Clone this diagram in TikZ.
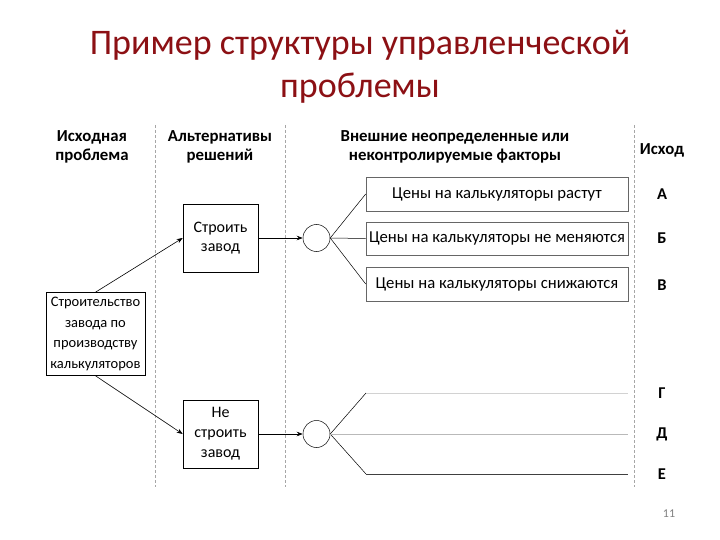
\documentclass[tikz,border=0pt]{standalone}
\usepackage{fontspec}
\setmainfont{Carlito}
\usetikzlibrary{shadows,arrows.meta}
\definecolor{titlered}{RGB}{140,16,20}
\begin{document}
\begin{tikzpicture}[x=1pt,y=-1pt,
  sep/.style={densely dashed,gray!70,line width=0.6pt},
  hdr/.style={font=\bfseries\fontsize{16.8}{19.5}\selectfont,align=center,inner sep=0pt},
  box/.style={draw,line width=0.6pt,fill=white,align=center,font=\fontsize{16}{20}\selectfont,inner sep=0pt},
  fbox/.style={box,font=\fontsize{16.7}{20}\selectfont,draw=gray!80!black,drop shadow={opacity=0.35,shadow xshift=1pt,shadow yshift=-1pt}},
  circ/.style={draw,circle,minimum size=27pt,inner sep=0pt,line width=0.5pt},
  arr/.style={-{Stealth[length=6pt,width=4.5pt]},line width=0.6pt},
  ln/.style={line width=0.5pt},
  outc/.style={font=\bfseries\fontsize{16.5}{18}\selectfont,inner sep=0pt}
]
\useasboundingbox (0,0) rectangle (720,540);
% title
\node[titlered,font=\fontsize{36}{43}\selectfont,align=center] (title) at (360,67) {Пример структуры управленческой\\проблемы};
% separators
\draw[sep] (155,125) -- (155,487);
\draw[sep] (285,125) -- (285,487);
\draw[sep] (634,125) -- (634,487);
% headers
\node[hdr] (h1) at (92,147) {Исходная\\проблема};
\node[hdr] (h2) at (220,147) {Альтернативы\\решений};
\node[hdr] (h3) at (455,147) {Внешние неопределенные или\\неконтролируемые факторы};
\node[hdr] (h4) at (662,150) {Исход};
% boxes
\node[box,minimum width=99pt,minimum height=83pt,font=\fontsize{14.5}{20.5}\selectfont] (root) at (95.5,334) {Строительство\\завода по\\производству\\калькуляторов};
\node[box,minimum width=75pt,minimum height=68pt,font=\fontsize{16}{18.5}\selectfont] (build) at (220.5,238) {Строить\\завод};
\node[box,minimum width=75pt,minimum height=68pt] (nobuild) at (220.5,434) {Не\\строить\\завод};
\node[circ] (c1) at (316.5,238) {};
\node[circ] (c2) at (316.5,434) {};
\node[fbox,minimum width=262pt,minimum height=34pt] (fa) at (497,194) {Цены на калькуляторы растут};
\node[fbox,minimum width=262pt,minimum height=33pt] (fb) at (497,238.5) {Цены на калькуляторы не меняются};
\node[fbox,minimum width=262pt,minimum height=34pt] (fc) at (497,284) {Цены на калькуляторы снижаются};
% arrows
\draw[arr] (root.north) -- (build.west);
\draw[arr] (root.south) -- (nobuild.west);
\draw[arr] (build.east) -- (c1.west);
\draw[arr] (nobuild.east) -- (c2.west);
% branches top
\draw[ln] (c1.east) -- (fa.west);
\draw[ln] (c1.east) -- (fb.west);
\draw[ln] (c1.east) -- (fc.west);
% branches bottom
\coordinate (g1) at (366,393);
\coordinate (g2) at (628,393);
\coordinate (d2) at (628,434);
\coordinate (e1) at (366,474);
\coordinate (e2) at (628,474);
\draw[ln] (c2.east) -- (g1);
\draw[ln] (c2.east) -- (e1);
\draw[line width=1pt,gray!35] (g1) -- (g2);
\draw[line width=1pt,gray!55] (c2.east) -- (d2);
\draw[line width=0.8pt,black!75] (e1) -- (e2);
% outcomes
\node[outc] (oa) at (662,194) {А};
\node[outc] (ob) at (662,238) {Б};
\node[outc] (oc) at (662,285) {В};
\node[outc] (og) at (662,393) {Г};
\node[outc] (od) at (662,434) {Д};
\node[outc] (oe) at (662,474) {Е};
% page number
\node[gray,font=\fontsize{12}{13}\selectfont] (pg) at (669,514) {11};
\end{tikzpicture}
\end{document}
